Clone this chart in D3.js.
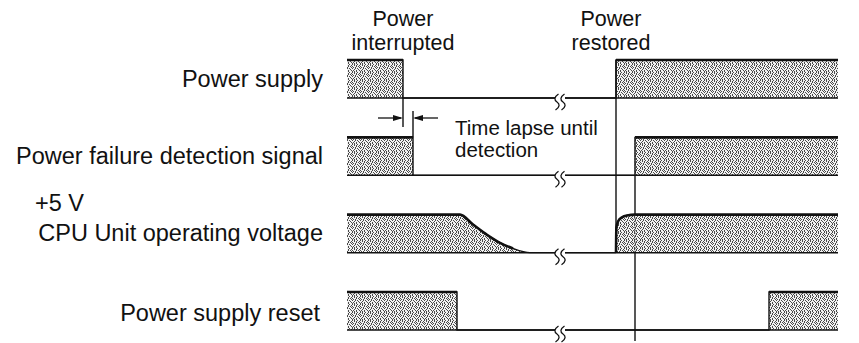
<!DOCTYPE html>
<html>
<head>
<meta charset="utf-8">
<script src="https://cdn.jsdelivr.net/npm/d3@7/dist/d3.min.js"></script>
<style>
  html, body { margin: 0; padding: 0; background: #fff; }
  svg { display: block; }
  text { font-family: "Liberation Sans", Arial, Helvetica, sans-serif; fill: #111; }
</style>
</head>
<body>
<svg id="chart" width="859" height="343"></svg>
<script>
// ---------------- data (time in arbitrary units, level 0 = low, 1 = high) ----------------
const signals = ["Power supply", "Power failure detection signal", "CPU Unit operating voltage", "Power supply reset"];

const powerSupply     = [[0, 1], [56, 1], [56, 0], [269, 0], [269, 1], [491, 1]];
const detectionSignal = [[0, 1], [66, 1], [66, 0], [288, 0], [288, 1], [491, 1]];
const cpuVoltage      = [[0, 1], [113, 1], [126, 0.74], [140, 0.47], [153, 0.26], [166, 0.11], [183, 0],
                         [269, 0], [269.4, 0.66], [271, 0.82], [275, 0.93], [280, 0.98], [288, 1], [491, 1]];
const powerReset      = [[0, 1], [110, 1], [110, 0], [422, 0], [422, 1], [491, 1]];
const seriesList = [powerSupply, detectionSignal, cpuVoltage, powerReset];

const eventTimes = { interrupted: 56, detected: 66, restored: 269, detectOn: 288 };
const breakTimes = [208, 218];
const timeDomain = [0, 491];

const topLabels = [
  { t: 56,  lines: ["Power", "interrupted"] },
  { t: 264, lines: ["Power", "restored"] }
];
const lapseLabel = ["Time lapse until", "detection"];

// ---------------- scales ----------------
const svg = d3.select("#chart");
const x = d3.scaleLinear().domain(timeDomain).range([347, 838]);
const row = d3.scalePoint().domain(signals).range([98, 330]);
const lvl = d3.scaleLinear().domain([0, 1]).range([0, -38]);
const yOf = (name, v) => row(name) + lvl(v);

// stipple pattern (8x8 tile)
const tile = [
  "#.#..#..",
  "..#.#..#",
  "#...#.#.",
  ".#.#...#",
  "#..#.#..",
  "..#...#.",
  ".#..#..#",
  "#.#.#..."
];
const defs = svg.append("defs");
const pat = defs.append("pattern").attr("id", "stipple").attr("patternUnits", "userSpaceOnUse")
  .attr("width", 8).attr("height", 8);
pat.append("rect").attr("width", 8).attr("height", 8).attr("fill", "#f2f2f2");
tile.forEach((r, yy) => r.split("").forEach((c, xx) => {
  if (c === "#") pat.append("rect").attr("x", xx).attr("y", yy).attr("width", 1).attr("height", 1)
    .attr("fill", "#4a4a4a").attr("shape-rendering", "crispEdges");
}));

// clip that removes the break gap
const clip = defs.append("clipPath").attr("id", "gap");
clip.append("rect").attr("x", 0).attr("y", 0).attr("width", x(breakTimes[0])).attr("height", 343);
clip.append("rect").attr("x", x(breakTimes[1])).attr("y", 0).attr("width", 859 - x(breakTimes[1])).attr("height", 343);

const g = svg.append("g").attr("clip-path", "url(#gap)");

signals.forEach((name, i) => {
  const data = seriesList[i];
  const curve = name === signals[2] ? d3.curveMonotoneX : d3.curveLinear;
  const area = d3.area().x(d => x(d[0])).y0(row(name)).y1(d => yOf(name, d[1])).curve(curve);
  g.append("path").attr("d", area(data)).attr("fill", "url(#stipple)");

  // baseline
  g.append("line").attr("x1", x(timeDomain[0])).attr("x2", x(timeDomain[1]))
    .attr("y1", row(name)).attr("y2", row(name)).attr("stroke", "#111").attr("stroke-width", 1.5);

  // thin outline (edges)
  const thin = d3.line().x(d => x(d[0])).y(d => yOf(name, d[1])).curve(curve);
  g.append("path").attr("d", thin(data)).attr("fill", "none").attr("stroke", "#111").attr("stroke-width", 1.4);

  // thick high level
  const thick = d3.line().defined((d, j) => d[1] > 0 || (name === signals[2] && data[j + 1] && data[j + 1][1] > 0 && d[0] > 200))
    .x(d => x(d[0])).y(d => yOf(name, d[1])).curve(curve);
  g.append("path").attr("d", thick(data)).attr("fill", "none").attr("stroke", "#111").attr("stroke-width", 2.6);

  // break squiggles
  const yb = row(name);
  const bx = (x(breakTimes[0]) + x(breakTimes[1])) / 2;
  [-3, 3].forEach(off => {
    const cx = bx + off;
    svg.append("path")
      .attr("d", `M${cx + 1.5},${yb - 4} C${cx - 3},${yb - 1} ${cx - 3},${yb + 2} ${cx},${yb + 4} C${cx + 3},${yb + 6} ${cx + 3},${yb + 9} ${cx - 1.5},${yb + 12}`)
      .attr("fill", "none").attr("stroke", "#111").attr("stroke-width", 1.3);
  });
});

// vertical guides
const arrowY = 118;
const vline = (t, y1, y2) => svg.append("line").attr("x1", x(t)).attr("x2", x(t)).attr("y1", y1).attr("y2", y2)
  .attr("stroke", "#111").attr("stroke-width", 1.4);
vline(eventTimes.interrupted, row(signals[0]), arrowY + 9);
vline(eventTimes.detected, arrowY - 7, yOf(signals[1], 1));
vline(eventTimes.restored, yOf(signals[0], 1), row(signals[2]));
vline(eventTimes.detectOn, row(signals[1]), row(signals[2]) - 38);
vline(eventTimes.detectOn, row(signals[2]), 341);

// dotted edges inside restored boxes
[signals[1], signals[2]].forEach(name => {
  svg.append("line").attr("x1", x(eventTimes.detectOn)).attr("x2", x(eventTimes.detectOn))
    .attr("y1", yOf(name, 1)).attr("y2", row(name))
    .attr("stroke", "#333").attr("stroke-width", 1).attr("stroke-dasharray", "1.5,1.5");
});

// arrows
const xa = x(eventTimes.interrupted), xb = x(eventTimes.detected);
svg.append("line").attr("x1", xa - 25).attr("x2", xa - 2).attr("y1", arrowY).attr("y2", arrowY).attr("stroke", "#111").attr("stroke-width", 1.3);
svg.append("path").attr("d", `M${xa},${arrowY} L${xa - 10},${arrowY - 3} L${xa - 10},${arrowY + 3} Z`).attr("fill", "#111");
svg.append("line").attr("x1", xb + 2).attr("x2", xb + 25).attr("y1", arrowY).attr("y2", arrowY).attr("stroke", "#111").attr("stroke-width", 1.3);
svg.append("path").attr("d", `M${xb},${arrowY} L${xb + 10},${arrowY - 3} L${xb + 10},${arrowY + 3} Z`).attr("fill", "#111");

// labels
const fs = 23.5;
const lab = (txt, xx, yy, anchor, size) => svg.append("text").attr("x", xx).attr("y", yy)
  .attr("text-anchor", anchor).attr("font-size", size || fs).text(txt);
lab(signals[0], 323, 87, "end");
lab(signals[1], 323, 164, "end");
lab("+5 V", 35, 211, "start");
lab(signals[2], 323, 241, "end");
lab(signals[3], 320, 321, "end");

// multi-line labels
const multi = (lines, xx, yy, anchor, size, lh) => {
  lines.forEach((s, k) => lab(s, xx, yy + k * lh, anchor, size));
};
topLabels.forEach(l => multi(l.lines, x(l.t), 25.5, "middle", 21.5, 24.2));
multi(lapseLabel, 455, 135, "start", 20.5, 22);
</script>
</body>
</html>
